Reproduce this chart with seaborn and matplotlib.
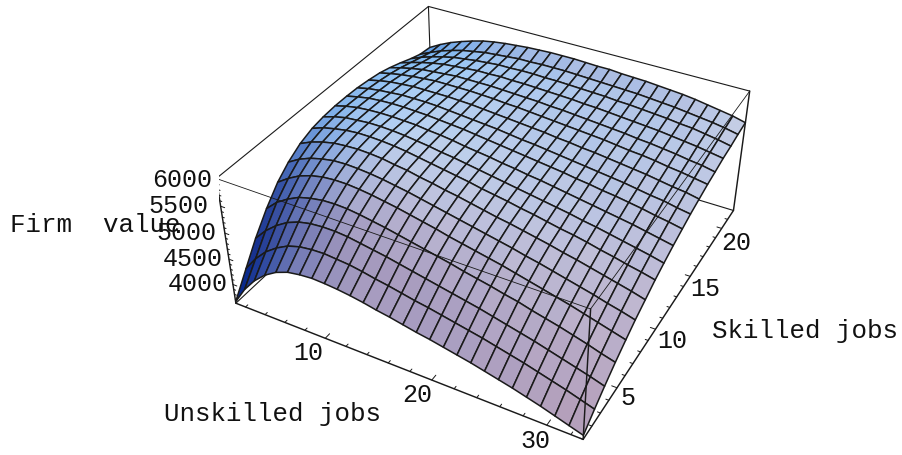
import numpy as np
import seaborn as sns
import matplotlib.pyplot as plt
from mpl_toolkits.mplot3d import proj3d

sns.set_theme(style="white")
plt.rcParams['font.family'] = ['Liberation Mono', 'DejaVu Sans Mono']

unskilled_jobs = [1, 2.19, 3.37, 4.56, 5.74, 6.93, 8.11, 9.3, 10.48, 11.67, 12.85, 14.04, 15.22, 16.41,
                  17.59, 18.78, 19.96, 21.15, 22.33, 23.52, 24.7, 25.89, 27.07, 28.26, 29.44, 30.63, 31.81, 33]
skilled_jobs = [1, 2.2, 3.3, 4.5, 5.7, 6.8, 8, 9.2, 10.3, 11.5, 12.7, 13.8, 15, 16.2, 17.3, 18.5, 19.7, 20.8, 22]

# one row per skilled_jobs value
firm_value = [
    [3650,3990,4250,4450,4590,4680,4720,4740,4730,4710,4680,4640,4590,4550,4500,4450,4410,4360,4310,4260,4200,4140,4080,4010,3940,3860,3780,3700],
    [4070,4350,4570,4730,4850,4920,4950,4960,4940,4920,4880,4830,4790,4740,4690,4650,4600,4550,4500,4450,4390,4330,4270,4200,4130,4060,3980,3900],
    [4450,4680,4860,5000,5090,5140,5160,5160,5140,5100,5060,5020,4970,4920,4870,4820,4770,4720,4670,4610,4550,4490,4430,4360,4290,4220,4150,4070],
    [4800,5000,5140,5250,5310,5350,5360,5350,5320,5280,5240,5190,5140,5090,5040,4990,4930,4880,4830,4770,4720,4650,4590,4530,4460,4390,4310,4240],
    [5090,5240,5360,5440,5490,5510,5510,5490,5460,5420,5380,5330,5280,5230,5170,5120,5070,5020,4970,4910,4850,4790,4730,4670,4600,4530,4460,4390],
    [5280,5410,5500,5560,5600,5610,5600,5580,5550,5510,5470,5420,5370,5320,5270,5220,5170,5120,5070,5010,4960,4900,4840,4780,4720,4650,4590,4520],
    [5430,5530,5600,5650,5670,5680,5670,5650,5610,5580,5530,5490,5440,5400,5350,5300,5250,5210,5160,5110,5060,5000,4950,4890,4830,4770,4710,4640],
    [5520,5600,5650,5690,5710,5710,5700,5680,5650,5610,5570,5530,5490,5450,5400,5360,5320,5270,5230,5180,5130,5090,5040,4980,4930,4870,4820,4760],
    [5560,5630,5680,5700,5720,5720,5710,5690,5660,5630,5590,5560,5520,5480,5440,5400,5360,5320,5280,5240,5200,5150,5110,5060,5010,4960,4910,4850],
    [5580,5640,5680,5700,5710,5710,5700,5690,5660,5640,5610,5570,5540,5510,5470,5440,5400,5370,5330,5290,5250,5210,5170,5130,5090,5040,4990,4940],
    [5580,5630,5670,5690,5700,5700,5690,5680,5660,5640,5620,5590,5560,5530,5500,5470,5440,5410,5380,5340,5310,5270,5240,5200,5160,5110,5070,5020],
    [5570,5620,5650,5670,5690,5690,5690,5680,5660,5640,5620,5600,5580,5550,5520,5500,5470,5440,5410,5380,5350,5320,5290,5250,5210,5180,5130,5090],
    [5540,5590,5630,5650,5670,5670,5670,5670,5660,5650,5630,5610,5590,5570,5550,5530,5500,5480,5450,5430,5400,5370,5340,5310,5270,5230,5200,5150],
    [5500,5550,5590,5620,5640,5660,5660,5660,5660,5650,5640,5620,5610,5590,5570,5550,5530,5510,5490,5470,5440,5410,5390,5360,5320,5290,5250,5210],
    [5440,5500,5550,5590,5610,5630,5650,5650,5650,5650,5640,5630,5620,5610,5590,5580,5560,5540,5520,5500,5480,5450,5430,5400,5370,5330,5300,5250],
    [5360,5430,5490,5540,5580,5600,5620,5640,5640,5650,5640,5640,5630,5620,5610,5600,5580,5570,5550,5530,5510,5490,5470,5440,5410,5380,5340,5300],
    [5270,5360,5430,5490,5540,5570,5600,5620,5640,5640,5650,5650,5640,5640,5630,5620,5610,5600,5580,5570,5550,5530,5510,5480,5460,5420,5380,5330],
    [5200,5300,5390,5460,5520,5560,5600,5620,5640,5660,5660,5670,5670,5670,5660,5650,5640,5630,5620,5610,5590,5570,5550,5520,5490,5460,5420,5370],
    [5170,5290,5390,5470,5540,5600,5640,5670,5690,5710,5720,5730,5730,5730,5720,5710,5710,5690,5680,5670,5650,5630,5610,5580,5540,5500,5460,5400],
]

x_ticks_major = [10, 20, 30]
y_ticks_major = [5, 10, 15, 20]
z_ticks_major = [4000, 4500, 5000, 5500, 6000]

x_min, x_max = 1, 33
y_min, y_max = 1, 22
z_min, z_max = 3620, 6000
elev, azim = 36.31, -61.51
aspect = (1.2, 1.2, 0.4793)

xs = np.array(unskilled_jobs)
ys = np.array(skilled_jobs)
zs = np.array(firm_value, dtype=float)

fig = plt.figure(figsize=(9.02, 4.55), dpi=100)
side = 540.5
ax = fig.add_axes([218.53/902, -18.34/455, side/902, side/455], projection="3d")
ax.set_xlim(x_min, x_max)
ax.set_ylim(y_min, y_max)
ax.set_zlim(z_min, z_max)
ax.view_init(elev, azim)
ax.set_proj_type("persp", focal_length=0.4427)
ax.set_box_aspect(aspect)
ax.set_axis_off()
ax.computed_zorder = False
ax.patch.set_alpha(0)

# facet colours: blue light from above, red from the viewer side
e, a = np.radians(elev), np.radians(azim)
right_v = np.array([-np.sin(a), np.cos(a), 0])
up_v = np.array([-np.sin(e)*np.cos(a), -np.sin(e)*np.sin(a), np.cos(e)])
to_v = np.array([np.cos(e)*np.cos(a), np.cos(e)*np.sin(a), np.sin(e)])
sx = aspect[0]/(x_max-x_min)
sy = aspect[1]/(y_max-y_min)
sz = aspect[2]/(z_max-z_min)
dzdx = (np.diff(zs, axis=1)[:-1, :] + np.diff(zs, axis=1)[1:, :])/2/np.diff(xs)[None, :]
dzdy = (np.diff(zs, axis=0)[:, :-1] + np.diff(zs, axis=0)[:, 1:])/2/np.diff(ys)[:, None]
normal = np.dstack([-dzdx*sz/sx, -dzdy*sz/sy, np.ones_like(dzdx)])
normal = normal/np.linalg.norm(normal, axis=2, keepdims=True)
r = normal @ right_v
up = normal @ up_v
tv = normal @ to_v
face = np.dstack([0.23+0.50*r+0.25*up+0.40*tv,
                  0.20+0.35*r+0.55*up+0.25*tv,
                  0.41+0.10*r+0.55*up+0.15*tv,
                  np.ones_like(r)]).clip(0, 1)

def box_line(p, q, lw, z):
    ax.plot([p[0], q[0]], [p[1], q[1]], [p[2], q[2]], color="k", lw=lw, zorder=z, solid_capstyle="round")

c_a = (x_min, y_min, z_min)
c_b = (x_max, y_min, z_min)
c_c = (x_max, y_max, z_min)
c_d = (x_min, y_max, z_min)
c_e = (x_min, y_min, z_max)
c_f = (x_max, y_min, z_max)
c_g = (x_max, y_max, z_max)
c_h = (x_min, y_max, z_max)

# back of the box, then surface, then front of the box
for p, q in [(c_a, c_d), (c_d, c_c), (c_d, c_h), (c_e, c_h), (c_h, c_g)]:
    box_line(p, q, 0.8, 1)
XX, YY = np.meshgrid(xs, ys)
ax.plot_surface(XX, YY, zs, rstride=1, cstride=1, facecolors=face, shade=False,
                edgecolor="k", linewidth=1.1, zorder=2)
for p, q in [(c_e, c_f), (c_f, c_g)]:
    box_line(p, q, 0.6, 3)
for p, q in [(c_a, c_b), (c_b, c_c), (c_a, c_e), (c_b, c_f), (c_c, c_g)]:
    box_line(p, q, 1.05, 3)

# ticks point into the box
for t in range(2, 33, 2):
    L = 0.4 if t in x_ticks_major else 0.2
    ax.plot([t, t], [y_min, y_min+L], [z_min, z_min], color="k", lw=.7, zorder=3)
for t in range(1, 22):
    L = 0.45 if t in y_ticks_major else 0.25
    ax.plot([x_max, x_max-L], [t, t], [z_min, z_min], color="k", lw=.7, zorder=3)
for t in range(3700, 6000, 100):
    L = 0.4 if t in z_ticks_major else 0.2
    ax.plot([x_min, x_min+L], [y_min, y_min], [t, t], color="k", lw=.7, zorder=3)

M = ax.get_proj()
def tick_label(x, y, z, dx, dy, text):
    px, py, _ = proj3d.proj_transform(x, y, z, M)
    ax.annotate(text, (px, py), xytext=(dx, dy), textcoords="offset pixels", ha="center", va="center",
                fontsize=18, color="#111111", annotation_clip=False, zorder=5)

for t, dx, dy in zip(x_ticks_major, [-17, -15, -11], [-15, -15, -16]):
    tick_label(t, y_min, z_min, dx, dy, str(t))
for t, dx, dy in zip(y_ticks_major, [11, 17, 15, 15], [-10, -12, -13, -15]):
    tick_label(x_max, t, z_min, dx, dy, str(t))
for t, dx, dy in zip(z_ticks_major, [-35, -36, -38, -42, -34], [0, 0, 0, 0, -2]):
    tick_label(x_min, y_min, t, dx, dy, str(t))

fig.text(95/902, 1-225/455, "Firm  value", ha="center", va="center", fontsize=18.6, color="#111111")
fig.text(272/902, 1-414/455, "Unskilled jobs", ha="center", va="center", fontsize=18.6, color="#111111")
fig.text(805/902, 1-331/455, "Skilled jobs", ha="center", va="center", fontsize=18.6, color="#111111")

fig.savefig("out.png", dpi=100, facecolor="white")
